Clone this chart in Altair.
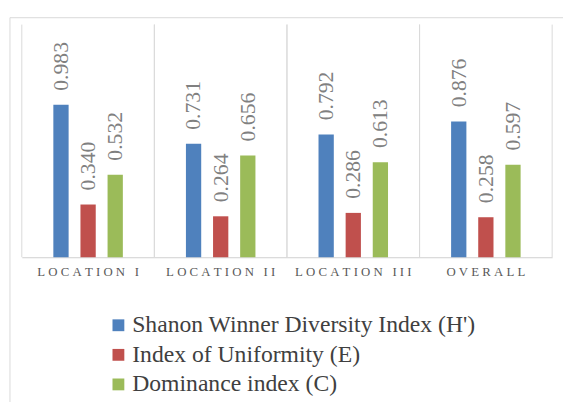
import altair as alt
import pandas as pd

NB = "\u00a0"
loc_names = ["LOCATION I", "LOCATION II", "LOCATION III", "OVERALL"]
series = ["Shanon Winner Diversity Index (H')", "Index of Uniformity (E)", "Dominance index (C)"]
shannon = [0.983, 0.731, 0.792, 0.876]
uniformity = [0.340, 0.264, 0.286, 0.258]
dominance = [0.532, 0.656, 0.613, 0.597]
colors = ["#4F81BD", "#C0504D", "#9BBB59"]


def spaced(s):
    # letter-spaced display text (Excel-style expanded caps)
    return (NB * 3).join(NB.join(w) for w in s.split(" "))


locations = [spaced(n) for n in loc_names]

rows = []
for i, loc in enumerate(locations):
    for s, vals in zip(series, [shannon, uniformity, dominance]):
        rows.append({"loc": loc, "series": s, "value": vals[i], "label": f"{vals[i]:.3f}"})
df = pd.DataFrame(rows)
locdf = pd.DataFrame({"loc": locations})

W, H = 538, 236
FONT = "Liberation Serif, Times New Roman, serif"

yscale = alt.Scale(domain=[0, 1.5], nice=False, zero=True)
xoff_scale = alt.Scale(paddingInner=0, paddingOuter=0.945)

base = alt.Chart(df)

bars = base.mark_bar(width=15.5).encode(
    x=alt.X("loc:N", sort=locations, title=None,
            scale=alt.Scale(paddingInner=0, paddingOuter=0),
            axis=alt.Axis(labelFont=FONT, labelFontSize=13, labelColor="#595959",
                          labelAngle=0, ticks=False, domainColor="#d0d0d0",
                          labelPadding=9, grid=False, bandPosition=0.5,
                          labelLimit=300)),
    xOffset=alt.XOffset("series:N", sort=series, scale=xoff_scale),
    y=alt.Y("value:Q", scale=yscale, axis=None),
    color=alt.Color("series:N", sort=series,
                    scale=alt.Scale(domain=series, range=colors),
                    legend=alt.Legend(title=None, orient="none", legendX=86, legendY=293,
                                      direction="vertical", symbolType="square",
                                      symbolSize=144, symbolStrokeWidth=0,
                                      labelFont=FONT, labelFontSize=24,
                                      labelColor="#404040", rowPadding=6,
                                      labelOffset=2, labelLimit=500)),
)

labels = base.mark_text(angle=270, align="center", baseline="middle", dx=39,
                        font=FONT, fontSize=22, color="#808080").encode(
    x=alt.X("loc:N", sort=locations),
    xOffset=alt.XOffset("series:N", sort=series, scale=xoff_scale),
    y=alt.Y("value:Q", scale=yscale),
    text="label:N",
)

sep_left = alt.Chart(locdf).mark_rule(color="#d9d9d9", strokeWidth=1).encode(
    x=alt.X("loc:N", sort=locations, bandPosition=0),
    y=alt.value(0), y2=alt.value(H),
)
sep_right = alt.Chart(locdf).mark_rule(color="#d9d9d9", strokeWidth=1).encode(
    x=alt.X("loc:N", sort=locations, bandPosition=1),
    y=alt.value(0), y2=alt.value(H),
)

frame = alt.Chart(pd.DataFrame({"f": [0]})).mark_rect(
    filled=False, stroke="#d9d9d9", strokeWidth=1).encode(
    x=alt.value(-12), x2=alt.value(W + 40), y=alt.value(-7), y2=alt.value(H + 200)
)

chart = alt.layer(bars, labels, sep_left, sep_right, frame).properties(
    width=W, height=H,
    autosize=alt.AutoSizeParams(type="none"),
    padding={"left": 14, "top": 14, "right": 11, "bottom": 144},
).configure_view(stroke=None)

chart.save("out.html", embed_options={"renderer": "svg", "actions": False})
